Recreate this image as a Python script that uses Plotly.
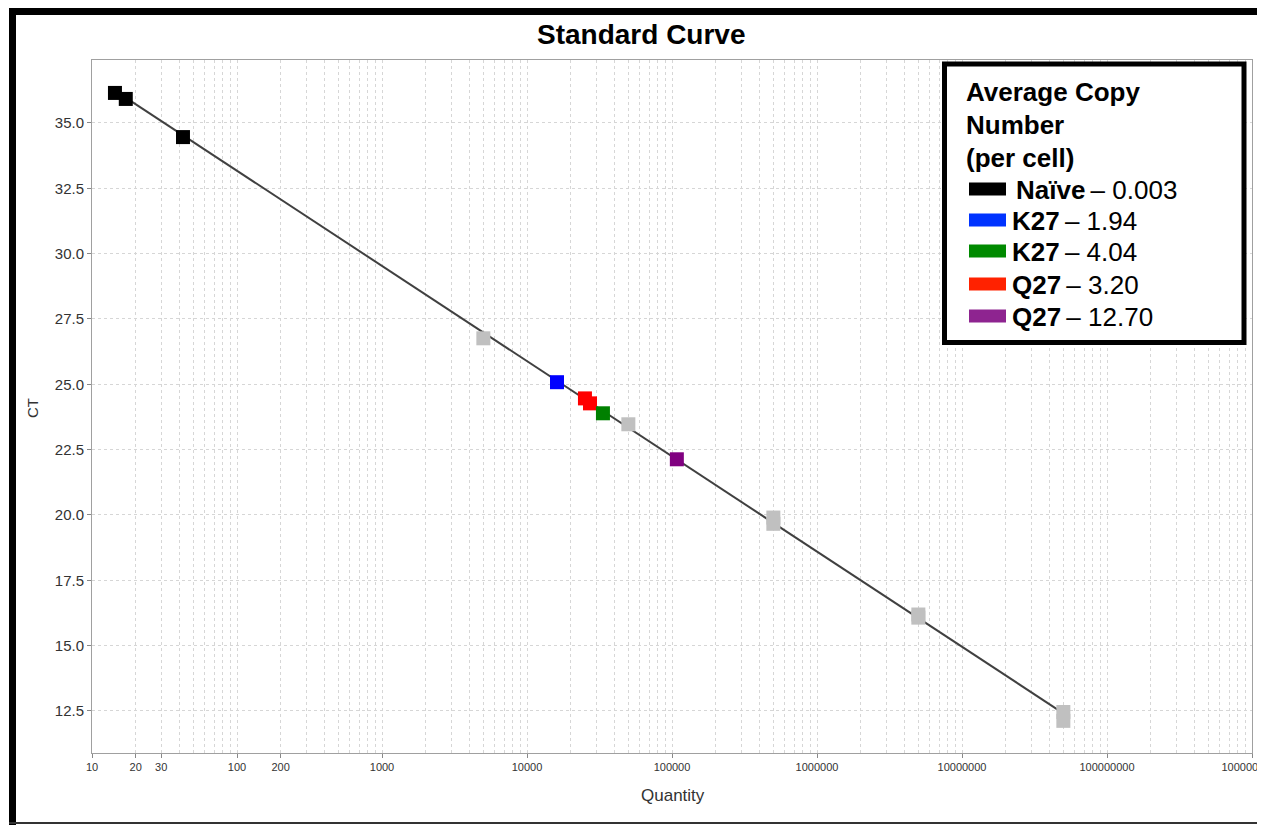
import numpy as np
import plotly.graph_objects as go

# ---------------- data ----------------
naive_qty = [14.4, 17.1, 42.4]
naive_ct = [36.15, 35.92, 34.46]

std_qty = [5000, 50000, 500000, 500000, 5000000, 5000000, 50000000, 50000000]
std_ct = [26.76, 23.47, 19.90, 19.66, 16.19, 16.07, 12.46, 12.12]

k27a_qty = [16100]
k27a_ct = [25.08]
k27b_qty = [33400]
k27b_ct = [23.89]
q27a_qty = [25100, 27200]
q27a_ct = [24.46, 24.27]
q27b_qty = [108000]
q27b_ct = [22.13]

x_tick_vals = [10, 20, 30, 100, 200, 1000, 10000, 100000, 1000000,
               10000000, 100000000, 1000000000]
x_tick_text = ["10", "20", "30", "100", "200", "1000", "10000", "100000",
               "1000000", "10000000", "100000000", "1000000000"]
y_tick_vals = [12.5, 15.0, 17.5, 20.0, 22.5, 25.0, 27.5, 30.0, 32.5, 35.0]

legend_names = ["Naïve", "K27", "K27", "Q27", "Q27"]
legend_values = ["0.003", "1.94", "4.04", "3.20", "12.70"]
legend_colors = ["#000000", "#0033ff", "#008a00", "#ff2200", "#8e2490"]

# ---------------- layout geometry ----------------
OFF = 8  # page offset of the figure (body margin)
W, H = 1265 - OFF, 825 - OFF
PL, PR, PT, PB = 92, 1252, 60, 753  # plot area in page pixels
ML, MT = PL - OFF, PT - OFF
MR = W - (PR - OFF)
MB = H - (PB - OFF)
PW, PH = PR - PL, PB - PT


def px(x):
    return (x - PL) / PW


def py(y):
    return (PB - y) / PH


FONT = "Liberation Sans, Arial, sans-serif"

fig = go.Figure()

# fitted standard curve line (from standards)
slope, intercept = np.polyfit(np.log10(std_qty), std_ct, 1)
all_qty = naive_qty + std_qty + k27a_qty + k27b_qty + q27a_qty + q27b_qty
lx = [min(all_qty), max(all_qty)]
ly = [slope * np.log10(v) + intercept for v in lx]
fig.add_trace(go.Scatter(x=lx, y=ly, mode="lines",
                         line=dict(color="#404040", width=2),
                         hoverinfo="skip", showlegend=False))

series = [
    (std_qty, std_ct, "#c0c0c0"),
    (naive_qty, naive_ct, "#000000"),
    (k27a_qty, k27a_ct, "#0000ff"),
    (q27a_qty, q27a_ct, "#ff0000"),
    (k27b_qty, k27b_ct, "#008000"),
    (q27b_qty, q27b_ct, "#800080"),
]
for xs, ys, col in series:
    fig.add_trace(go.Scatter(x=xs, y=ys, mode="markers",
                             marker=dict(symbol="square", size=14, color=col,
                                         line=dict(width=0)),
                             showlegend=False))

# minor grid positions (2..9 of each decade)
minor_vals = [m * 10 ** d for d in range(1, 9) for m in range(2, 10)]

grid_col = "#d6d6d6"
fig.update_xaxes(type="log", range=[1, 9],
                 tickmode="array", tickvals=x_tick_vals, ticktext=x_tick_text,
                 ticks="outside", ticklen=4, tickcolor="#888888",
                 tickfont=dict(family=FONT, size=11, color="#333333"),
                 ticklabeloverflow="allow",
                 showline=True, linecolor="#a0a0a0", linewidth=1, mirror=True,
                 showgrid=True, gridcolor=grid_col, griddash="3px,3px", gridwidth=1,
                 minor=dict(tickmode="array", tickvals=minor_vals, showgrid=True,
                            gridcolor=grid_col, griddash="3px,3px", ticks=""),
                 zeroline=False)
fig.update_yaxes(range=[10.89, 37.41],
                 tickmode="array", tickvals=y_tick_vals,
                 ticktext=[f"{v:.1f}" for v in y_tick_vals],
                 ticks="outside", ticklen=4, tickcolor="#888888",
                 tickfont=dict(family=FONT, size=15, color="#333333"),
                 showline=True, linecolor="#a0a0a0", linewidth=1, mirror=True,
                 showgrid=True, gridcolor=grid_col, griddash="3px,3px", gridwidth=1,
                 zeroline=False)

shapes = []
annotations = []

# outer frame
shapes.append(dict(type="line", xref="paper", yref="paper",
                   x0=px(12.5), x1=px(12.5), y0=py(8), y1=py(825),
                   line=dict(color="black", width=7)))
shapes.append(dict(type="line", xref="paper", yref="paper",
                   x0=px(9), x1=px(1263), y0=py(11.5), y1=py(11.5),
                   line=dict(color="black", width=7)))
shapes.append(dict(type="line", xref="paper", yref="paper",
                   x0=px(1263), x1=px(1263), y0=py(11), y1=py(823),
                   line=dict(color="#9a9a9a", width=1)))
shapes.append(dict(type="line", xref="paper", yref="paper",
                   x0=px(9), x1=px(1263), y0=py(823), y1=py(823),
                   line=dict(color="#333333", width=2)))

# legend box
shapes.append(dict(type="rect", xref="paper", yref="paper", layer="above",
                   x0=px(944.5), x1=px(1244), y0=py(64), y1=py(342.5),
                   fillcolor="white", line=dict(color="black", width=5)))

title_lines = ["Average Copy", "Number", "(per cell)"]
title_y = [92, 125, 158]
for t, yy in zip(title_lines, title_y):
    annotations.append(dict(xref="paper", yref="paper", x=px(964), y=py(yy),
                            xanchor="left", yanchor="middle", showarrow=False,
                            text=f"<b>{t}</b>",
                            font=dict(family=FONT, size=26, color="black")))

row_y = [189, 220, 251, 284, 316]
for name, val, col, yy in zip(legend_names, legend_values, legend_colors, row_y):
    shapes.append(dict(type="rect", xref="paper", yref="paper", layer="above",
                       x0=px(969), x1=px(1006), y0=py(yy - 6.5), y1=py(yy + 6.5),
                       fillcolor=col, line=dict(width=0)))
    start = 1014 if name == "Naïve" else 1010
    annotations.append(dict(xref="paper", yref="paper", x=px(start), y=py(yy + 1),
                            xanchor="left", yanchor="middle", showarrow=False,
                            text=f"<b>{name}</b>\u2009\u2013 {val}",
                            font=dict(family=FONT, size=26, color="black")))

# chart title
annotations.append(dict(xref="paper", yref="paper", x=px(641), y=py(35),
                        xanchor="center", yanchor="middle", showarrow=False,
                        text="<b>Standard Curve</b>",
                        font=dict(family=FONT, size=28, color="black")))
# axis titles
annotations.append(dict(xref="paper", yref="paper", x=px(32), y=py(408),
                        xanchor="center", yanchor="middle", showarrow=False,
                        text="CT", textangle=-90,
                        font=dict(family=FONT, size=15, color="#333333")))
annotations.append(dict(xref="paper", yref="paper", x=px(673), y=py(795),
                        xanchor="center", yanchor="middle", showarrow=False,
                        text="Quantity",
                        font=dict(family=FONT, size=17, color="#333333")))

fig.update_layout(width=W, height=H,
                  margin=dict(l=ML, r=MR, t=MT, b=MB, autoexpand=False),
                  paper_bgcolor="white", plot_bgcolor="white",
                  showlegend=False, shapes=shapes, annotations=annotations,
                  font=dict(family=FONT))

fig.write_html("out.html")
